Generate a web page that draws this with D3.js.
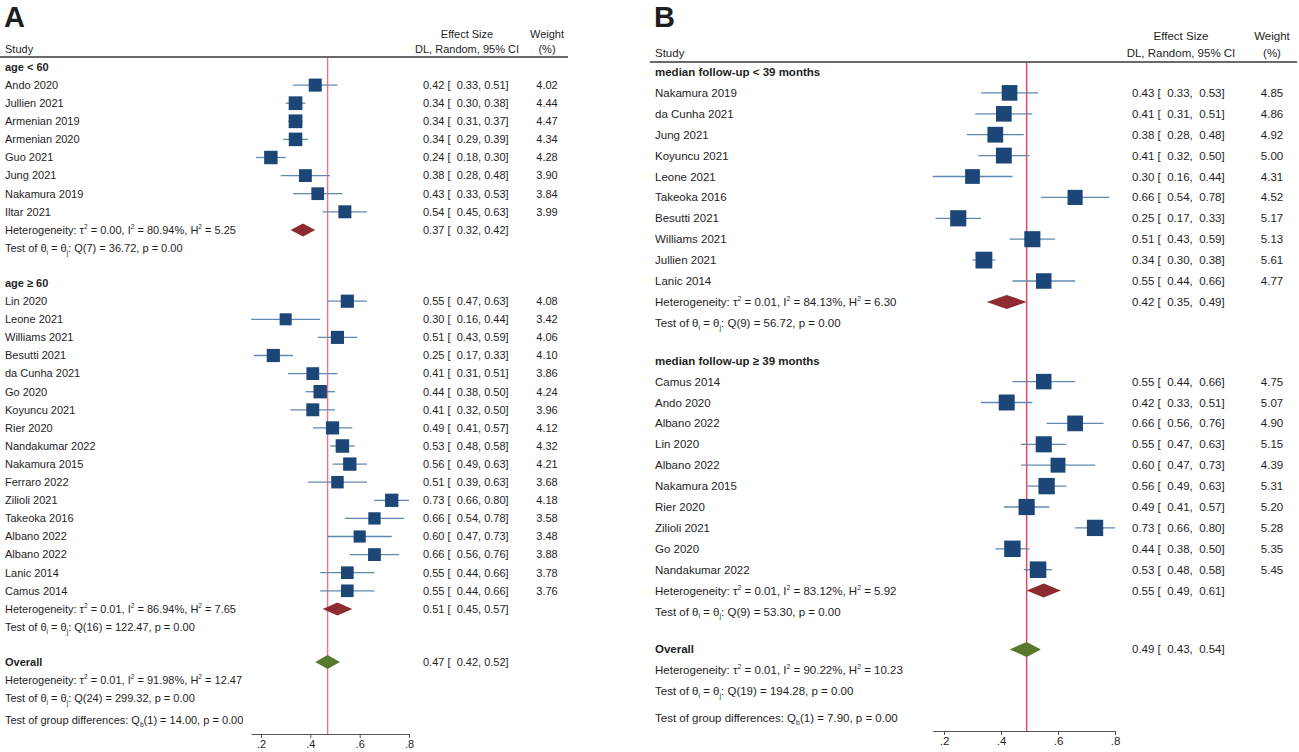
<!DOCTYPE html>
<html>
<head>
<meta charset="utf-8">
<script src="https://cdn.jsdelivr.net/npm/d3@7"></script>
<style>
  body { margin: 0; background: #fff; }
  svg { display: block; font-family: "Liberation Sans", Arial, sans-serif; }
  text { white-space: pre; fill: #1e1e1e; }
</style>
</head>
<body>
<div id="chart"></div>
<script>
// Panel A: subgroups by age
const ageLow = [
    ['Ando 2020', 0.42, 0.33, 0.51, 4.02],
    ['Jullien 2021', 0.34, 0.30, 0.38, 4.44],
    ['Armenian 2019', 0.34, 0.31, 0.37, 4.47],
    ['Armenian 2020', 0.34, 0.29, 0.39, 4.34],
    ['Guo 2021', 0.24, 0.18, 0.30, 4.28],
    ['Jung 2021', 0.38, 0.28, 0.48, 3.90],
    ['Nakamura 2019', 0.43, 0.33, 0.53, 3.84],
    ['Iltar 2021', 0.54, 0.45, 0.63, 3.99]
];
const ageHigh = [
    ['Lin 2020', 0.55, 0.47, 0.63, 4.08],
    ['Leone 2021', 0.30, 0.16, 0.44, 3.42],
    ['Williams 2021', 0.51, 0.43, 0.59, 4.06],
    ['Besutti 2021', 0.25, 0.17, 0.33, 4.10],
    ['da Cunha 2021', 0.41, 0.31, 0.51, 3.86],
    ['Go 2020', 0.44, 0.38, 0.50, 4.24],
    ['Koyuncu 2021', 0.41, 0.32, 0.50, 3.96],
    ['Rier 2020', 0.49, 0.41, 0.57, 4.12],
    ['Nandakumar 2022', 0.53, 0.48, 0.58, 4.32],
    ['Nakamura 2015', 0.56, 0.49, 0.63, 4.21],
    ['Ferraro 2022', 0.51, 0.39, 0.63, 3.68],
    ['Zilioli 2021', 0.73, 0.66, 0.80, 4.18],
    ['Takeoka 2016', 0.66, 0.54, 0.78, 3.58],
    ['Albano 2022', 0.60, 0.47, 0.73, 3.48],
    ['Albano 2022', 0.66, 0.56, 0.76, 3.88],
    ['Lanic 2014', 0.55, 0.44, 0.66, 3.78],
    ['Camus 2014', 0.55, 0.44, 0.66, 3.76]
];
// pooled: [es, lo, hi], heterogeneity: [tau2, I2, H2], test: [df, Q, p]
const ageLowPooled = [0.37, 0.32, 0.42];
const ageLowHet = ['0.00', '80.94%', '5.25'];
const ageLowTest = [7, '36.72', '0.00'];
const ageHighPooled = [0.51, 0.45, 0.57];
const ageHighHet = ['0.01', '86.94%', '7.65'];
const ageHighTest = [16, '122.47', '0.00'];
const overallA = [0.47, 0.42, 0.52];
const overallAHet = ['0.01', '91.98%', '12.47'];
const overallATest = [24, '299.32', '0.00'];
const groupDiffA = ['14.00', '0.00'];

// Panel B: subgroups by median follow-up
const fupShort = [
    ['Nakamura 2019', 0.43, 0.33, 0.53, 4.85],
    ['da Cunha 2021', 0.41, 0.31, 0.51, 4.86],
    ['Jung 2021', 0.38, 0.28, 0.48, 4.92],
    ['Koyuncu 2021', 0.41, 0.32, 0.50, 5.00],
    ['Leone 2021', 0.30, 0.16, 0.44, 4.31],
    ['Takeoka 2016', 0.66, 0.54, 0.78, 4.52],
    ['Besutti 2021', 0.25, 0.17, 0.33, 5.17],
    ['Williams 2021', 0.51, 0.43, 0.59, 5.13],
    ['Jullien 2021', 0.34, 0.30, 0.38, 5.61],
    ['Lanic 2014', 0.55, 0.44, 0.66, 4.77]
];
const fupLong = [
    ['Camus 2014', 0.55, 0.44, 0.66, 4.75],
    ['Ando 2020', 0.42, 0.33, 0.51, 5.07],
    ['Albano 2022', 0.66, 0.56, 0.76, 4.90],
    ['Lin 2020', 0.55, 0.47, 0.63, 5.15],
    ['Albano 2022', 0.60, 0.47, 0.73, 4.39],
    ['Nakamura 2015', 0.56, 0.49, 0.63, 5.31],
    ['Rier 2020', 0.49, 0.41, 0.57, 5.20],
    ['Zilioli 2021', 0.73, 0.66, 0.80, 5.28],
    ['Go 2020', 0.44, 0.38, 0.50, 5.35],
    ['Nandakumar 2022', 0.53, 0.48, 0.58, 5.45]
];
const fupShortPooled = [0.42, 0.35, 0.49];
const fupShortHet = ['0.01', '84.13%', '6.30'];
const fupShortTest = [9, '56.72', '0.00'];
const fupLongPooled = [0.55, 0.49, 0.61];
const fupLongHet = ['0.01', '83.12%', '5.92'];
const fupLongTest = [9, '53.30', '0.00'];
const overallB = [0.49, 0.43, 0.54];
const overallBHet = ['0.01', '90.22%', '10.23'];
const overallBTest = [19, '194.28', '0.00'];
const groupDiffB = ['7.90', '0.00'];

const tickValues = [0.2, 0.4, 0.6, 0.8];

const colors = {
    box: '#1b4677',
    ci: '#6288ae',
    sub: '#8e2b30',
    overall: '#58792b',
    rule: '#6a6a6a'
};

const W = 1299, H = 752;
const svg = d3.select('#chart').append('svg').attr('width', W).attr('height', H);

const panels = [
    {
        letter: 'A', left: 0, fontSize: 11, ruleRight: 568,
        x2: 261, x8: 409, estX: 423, weightX: 547, estMid: 467,
        headTop: 34, headBottom: 49, ruleY: 57, axisY: 734,
        y0: 67, step: 18.1, gapH: 17, diffExtra: 4, boxK: 6.5, diamondH: 6.5,
        lineColor: '#e5768e', estFmt: (e, l, h) => `${f2(e)} [  ${f2(l)}, ${f2(h)}]`,
        groups: [
            { label: 'age < 60', studies: ageLow, pooled: ageLowPooled, het: ageLowHet, test: ageLowTest },
            { label: 'age \u2265 60', studies: ageHigh, pooled: ageHighPooled, het: ageHighHet, test: ageHighTest }
        ],
        overall: overallA, overallHet: overallAHet, overallTest: overallATest, diff: groupDiffA
    },
    {
        letter: 'B', left: 650, fontSize: 11.5, ruleRight: 1297,
        x2: 944, x8: 1115, estX: 1132, weightX: 1272, estMid: 1181,
        headTop: 36, headBottom: 53, ruleY: 62, axisY: 731,
        y0: 72, step: 20.9, gapH: 17, diffExtra: 6, boxK: 7.1, diamondH: 7,
        lineColor: '#e2405e', estFmt: (e, l, h) => `${f2(e)} [  ${f2(l)},  ${f2(h)}]`,
        groups: [
            { label: 'median follow-up < 39 months', studies: fupShort, pooled: fupShortPooled, het: fupShortHet, test: fupShortTest },
            { label: 'median follow-up \u2265 39 months', studies: fupLong, pooled: fupLongPooled, het: fupLongHet, test: fupLongTest }
        ],
        overall: overallB, overallHet: overallBHet, overallTest: overallBTest, diff: groupDiffB
    }
];

function f2(v) { return v.toFixed(2); }

// text with small raised / lowered pieces: parts = [[text, 'sup'|'sub'|null], ...]
function richText(g, x, y, parts, size) {
    const t = g.append('text').attr('x', x).attr('y', y + size * 0.35)
        .style('font-size', size + 'px');
    let shift = 0;
    parts.forEach(([s, kind]) => {
        const target = kind === 'sup' ? -size * 0.42 : kind === 'sub' ? size * 0.25 : 0;
        t.append('tspan')
            .attr('dy', target - shift)
            .style('font-size', kind ? (size * 0.6) + 'px' : null)
            .text(s);
        shift = target;
    });
    return t;
}

function hetParts(h) {
    return [['Heterogeneity: \u03c4'], ['2', 'sup'], [' = ' + h[0] + ', I'], ['2', 'sup'],
            [' = ' + h[1] + ', H'], ['2', 'sup'], [' = ' + h[2]]];
}
function testParts(t) {
    return [['Test of \u03b8'], ['i', 'sub'], [' = \u03b8'], ['j', 'sub'],
            [': Q(' + t[0] + ') = ' + t[1] + ', p = ' + t[2]]];
}

function drawPanel(p) {
    const g = svg.append('g');
    const fs = p.fontSize;
    const px = (p.x8 - p.x2) / 0.6;
    const x = d3.scaleLinear().domain([0.16, 0.8]).range([p.x2 - 0.04 * px, p.x8]);
    const lx = p.left + 5;

    // build row layout
    const rows = [];
    let y = p.y0;
    p.groups.forEach(grp => {
        rows.push({ type: 'group', y, label: grp.label });
        grp.studies.forEach(s => { y += p.step; rows.push({ type: 'study', y, d: s }); });
        y += p.step; rows.push({ type: 'het', y, grp });
        y += p.step; rows.push({ type: 'test', y, grp });
        y += p.step + p.gapH;
    });
    rows.push({ type: 'overall', y });
    y += p.step; rows.push({ type: 'ohet', y });
    y += p.step; rows.push({ type: 'otest', y });
    y += p.step + p.diffExtra; rows.push({ type: 'diff', y });

    const label = (xx, yy, s, anchor, bold) => {
        const t = g.append('text').attr('x', xx).attr('y', yy).attr('dy', '0.35em')
            .style('font-size', fs + 'px').text(s);
        if (anchor) t.attr('text-anchor', anchor);
        if (bold) t.style('font-weight', 'bold');
        return t;
    };

    // panel letter
    g.append('text').attr('x', p.left + 4).attr('y', 27)
        .style('font-size', '29px').style('font-weight', 'bold').text(p.letter);

    // header
    label(lx, p.headBottom, 'Study');
    label(p.estMid, p.headTop, 'Effect Size', 'middle');
    label(p.estMid, p.headBottom, 'DL, Random, 95% CI', 'middle');
    label(p.weightX, p.headTop, 'Weight', 'middle');
    label(p.weightX, p.headBottom, '(%)', 'middle');
    g.append('line').attr('x1', p.left).attr('x2', p.ruleRight)
        .attr('y1', p.ruleY).attr('y2', p.ruleY)
        .attr('stroke', colors.rule).attr('stroke-width', 2);

    // overall reference line
    g.append('line').attr('x1', x(p.overall[0])).attr('x2', x(p.overall[0]))
        .attr('y1', p.ruleY + 1).attr('y2', p.axisY)
        .attr('stroke', p.lineColor).attr('stroke-width', 1.4);

    const diamond = (yy, v, color, hh) => {
        const pts = [[x(v[1]), yy], [x(v[0]), yy - hh], [x(v[2]), yy], [x(v[0]), yy + hh]];
        g.append('path').attr('d', 'M' + pts.join('L') + 'Z').attr('fill', color);
    };

    rows.forEach(r => {
        if (r.type === 'group') {
            label(lx, r.y, r.label, null, true);
        } else if (r.type === 'study') {
            const [name, es, lo, hi, w] = r.d;
            label(lx, r.y, name);
            g.append('line').attr('x1', x(lo)).attr('x2', x(hi)).attr('y1', r.y).attr('y2', r.y)
                .attr('stroke', colors.ci).attr('stroke-width', 1.3);
            const side = p.boxK * Math.sqrt(w);
            g.append('rect').attr('x', x(es) - side / 2).attr('y', r.y - side / 2)
                .attr('width', side).attr('height', side).attr('fill', colors.box);
            label(p.estX, r.y, p.estFmt(es, lo, hi));
            label(p.weightX, r.y, f2(w), 'middle');
        } else if (r.type === 'het') {
            richText(g, lx, r.y, hetParts(r.grp.het), fs);
            diamond(r.y, r.grp.pooled, colors.sub, p.diamondH);
            label(p.estX, r.y, p.estFmt(...r.grp.pooled));
        } else if (r.type === 'test') {
            richText(g, lx, r.y, testParts(r.grp.test), fs);
        } else if (r.type === 'overall') {
            label(lx, r.y, 'Overall', null, true);
            diamond(r.y, p.overall, colors.overall, p.diamondH + 0.5);
            label(p.estX, r.y, p.estFmt(...p.overall));
        } else if (r.type === 'ohet') {
            richText(g, lx, r.y, hetParts(p.overallHet), fs);
        } else if (r.type === 'otest') {
            richText(g, lx, r.y, testParts(p.overallTest), fs);
        } else if (r.type === 'diff') {
            richText(g, lx, r.y, [['Test of group differences: Q'], ['b', 'sub'],
                ['(1) = ' + p.diff[0] + ', p = ' + p.diff[1]]], fs);
        }
    });

    // x axis
    const axis = d3.axisBottom(x)
        .tickValues(tickValues)
        .tickFormat(d => d3.format('.1f')(d).replace(/^0/, ''))
        .tickSizeInner(4)
        .tickSizeOuter(0)
        .tickPadding(2);
    const ag = g.append('g').attr('transform', `translate(0,${p.axisY})`).call(axis);
    ag.select('.domain').attr('stroke', '#555').attr('stroke-width', 1.2);
    ag.selectAll('.tick line').attr('stroke', '#555');
    ag.selectAll('.tick text').style('font-size', fs + 'px')
        .style('font-family', '"Liberation Sans", Arial, sans-serif').attr('fill', '#1e1e1e');
}

panels.forEach(drawPanel);
</script>
</body>
</html>
